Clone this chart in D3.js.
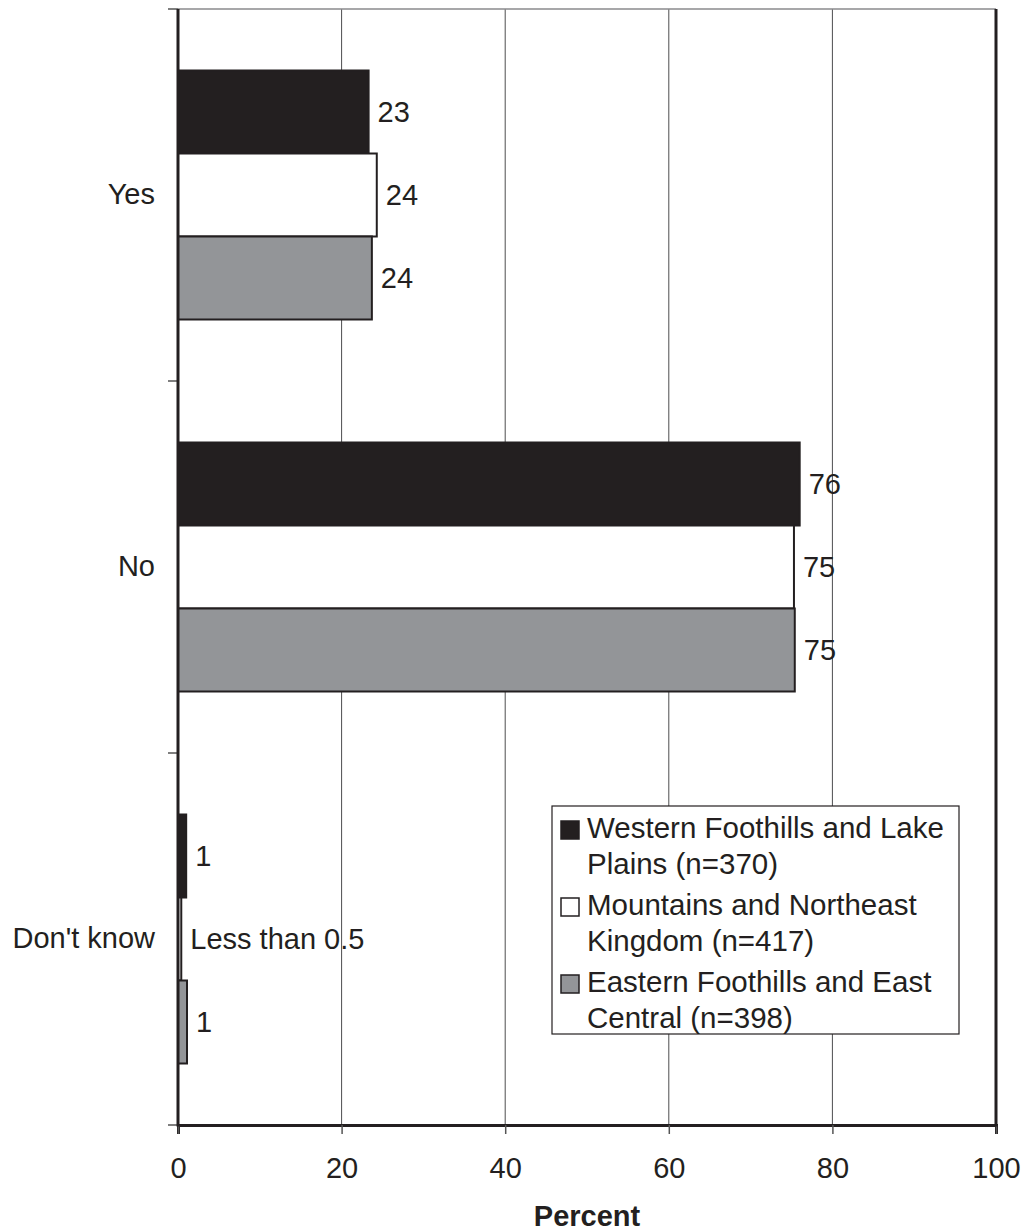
<!DOCTYPE html>
<html>
<head>
<meta charset="utf-8">
<script src="https://cdn.jsdelivr.net/npm/d3@7"></script>
<style>
  html, body { margin: 0; padding: 0; background: #fff; }
  svg { display: block; font-family: "Liberation Sans", Arial, Helvetica, sans-serif; }
</style>
</head>
<body>
<svg id="chart" width="1026" height="1232"></svg>
<script>
// Survey responses by region (percent)
const categories = ["Yes", "No", "Don't know"];
const seriesNames = [
  ["Western Foothills and Lake", "Plains (n=370)"],
  ["Mountains and Northeast", "Kingdom (n=417)"],
  ["Eastern Foothills and East", "Central (n=398)"]
];
const westernValues  = [23.3, 76.0, 1.0];
const mountainValues = [24.3, 75.3, 0.4];
const easternValues  = [23.7, 75.4, 1.1];
const xTicks = [0, 20, 40, 60, 80, 100];

const fills   = ["#231f20", "#ffffff", "#939598"];
const strokes = ["#231f20", "#231f20", "#231f20"];
const ink = "#231f20";

const svg = d3.select("#chart");
const plotLeft = 178, plotRight = 996, plotTop = 9, plotBottom = 1125;

const x = d3.scaleLinear().domain([0, 100]).range([plotLeft, plotRight]);
const y0 = d3.scaleBand().domain(categories).range([plotTop, plotBottom]).paddingInner(0).paddingOuter(0);
const seriesIdx = [0, 1, 2];
const y1 = d3.scaleBand().domain(seriesIdx).range([0, y0.bandwidth()]).paddingInner(0).paddingOuter(0.741);

const allValues = [westernValues, mountainValues, easternValues];
const rows = [];
categories.forEach((c, ci) => {
  seriesIdx.forEach(si => rows.push({ cat: c, s: si, v: allValues[si][ci] }));
});

const fmt = v => (v < 0.5 ? "Less than 0.5" : d3.format(".0f")(v));

// grid lines
svg.append("g")
  .selectAll("line")
  .data(xTicks.filter(t => t > 0 && t < 100))
  .join("line")
  .attr("x1", d => x(d)).attr("x2", d => x(d))
  .attr("y1", plotTop).attr("y2", plotBottom)
  .attr("stroke", "#4d4d4f").attr("stroke-width", 1);

// top border
svg.append("line")
  .attr("x1", plotLeft).attr("x2", plotRight).attr("y1", plotTop).attr("y2", plotTop)
  .attr("stroke", "#8a8a8c").attr("stroke-width", 1.5);

// bars
svg.append("g")
  .selectAll("rect")
  .data(rows)
  .join("rect")
  .attr("x", x(0))
  .attr("y", d => y0(d.cat) + y1(d.s))
  .attr("width", d => x(d.v) - x(0))
  .attr("height", y1.bandwidth())
  .attr("fill", d => fills[d.s])
  .attr("stroke", d => strokes[d.s])
  .attr("stroke-width", 2);

// value labels
svg.append("g")
  .selectAll("text")
  .data(rows)
  .join("text")
  .attr("x", d => x(d.v) + 9)
  .attr("y", d => y0(d.cat) + y1(d.s) + y1.bandwidth() / 2)
  .attr("dy", "0.36em")
  .attr("font-size", 29)
  .attr("fill", ink)
  .text(d => fmt(d.v));

// x axis
const xAxis = svg.append("g")
  .attr("transform", `translate(0,${plotBottom})`)
  .call(d3.axisBottom(x).tickValues(xTicks).tickSize(9).tickPadding(23).tickFormat(d3.format("d")));
xAxis.select(".domain").attr("stroke", ink).attr("stroke-width", 3);
xAxis.selectAll(".tick line").attr("stroke", "#555").attr("stroke-width", 1.5);
xAxis.selectAll("text").attr("font-size", 29).attr("fill", ink).attr("font-family", null);

// y axis labels
const yAxis = svg.append("g")
  .attr("transform", `translate(${plotLeft},0)`)
  .call(d3.axisLeft(y0).tickSize(0).tickPadding(23));
yAxis.select(".domain").remove();
yAxis.selectAll("text").attr("font-size", 29).attr("fill", ink).attr("font-family", null);

// y axis line and band-edge ticks
const edges = categories.map(c => y0(c)).concat([plotBottom]);
svg.append("g")
  .selectAll("line")
  .data(edges)
  .join("line")
  .attr("x1", plotLeft - 10).attr("x2", plotLeft)
  .attr("y1", d => d).attr("y2", d => d)
  .attr("stroke", "#555").attr("stroke-width", 1.5);
svg.append("line")
  .attr("x1", plotLeft).attr("x2", plotLeft).attr("y1", plotTop).attr("y2", plotBottom + 1.5)
  .attr("stroke", ink).attr("stroke-width", 3);

// right border
svg.append("line")
  .attr("x1", plotRight).attr("x2", plotRight).attr("y1", plotTop).attr("y2", plotBottom + 1.5)
  .attr("stroke", ink).attr("stroke-width", 3);

// x axis title
svg.append("text")
  .attr("x", (plotLeft + plotRight) / 2)
  .attr("y", 1226)
  .attr("text-anchor", "middle")
  .attr("font-size", 29)
  .attr("font-weight", "bold")
  .attr("fill", ink)
  .text("Percent");

// legend
const lg = svg.append("g");
lg.append("rect")
  .attr("x", 552).attr("y", 806).attr("width", 407).attr("height", 228)
  .attr("fill", "#fff").attr("stroke", ink).attr("stroke-width", 1.2);
const entry = lg.selectAll("g.entry")
  .data(seriesIdx)
  .join("g")
  .attr("class", "entry")
  .attr("transform", d => `translate(0,${d * 77})`);
entry.append("rect")
  .attr("x", 561).attr("y", 821).attr("width", 18).attr("height", 18)
  .attr("fill", d => fills[d]).attr("stroke", ink).attr("stroke-width", 1.5);
entry.append("text")
  .attr("x", 587).attr("y", 838)
  .attr("font-size", 29.5).attr("fill", ink)
  .text(d => seriesNames[d][0]);
entry.append("text")
  .attr("x", 587).attr("y", 874)
  .attr("font-size", 29.5).attr("fill", ink)
  .text(d => seriesNames[d][1]);
</script>
</body>
</html>
